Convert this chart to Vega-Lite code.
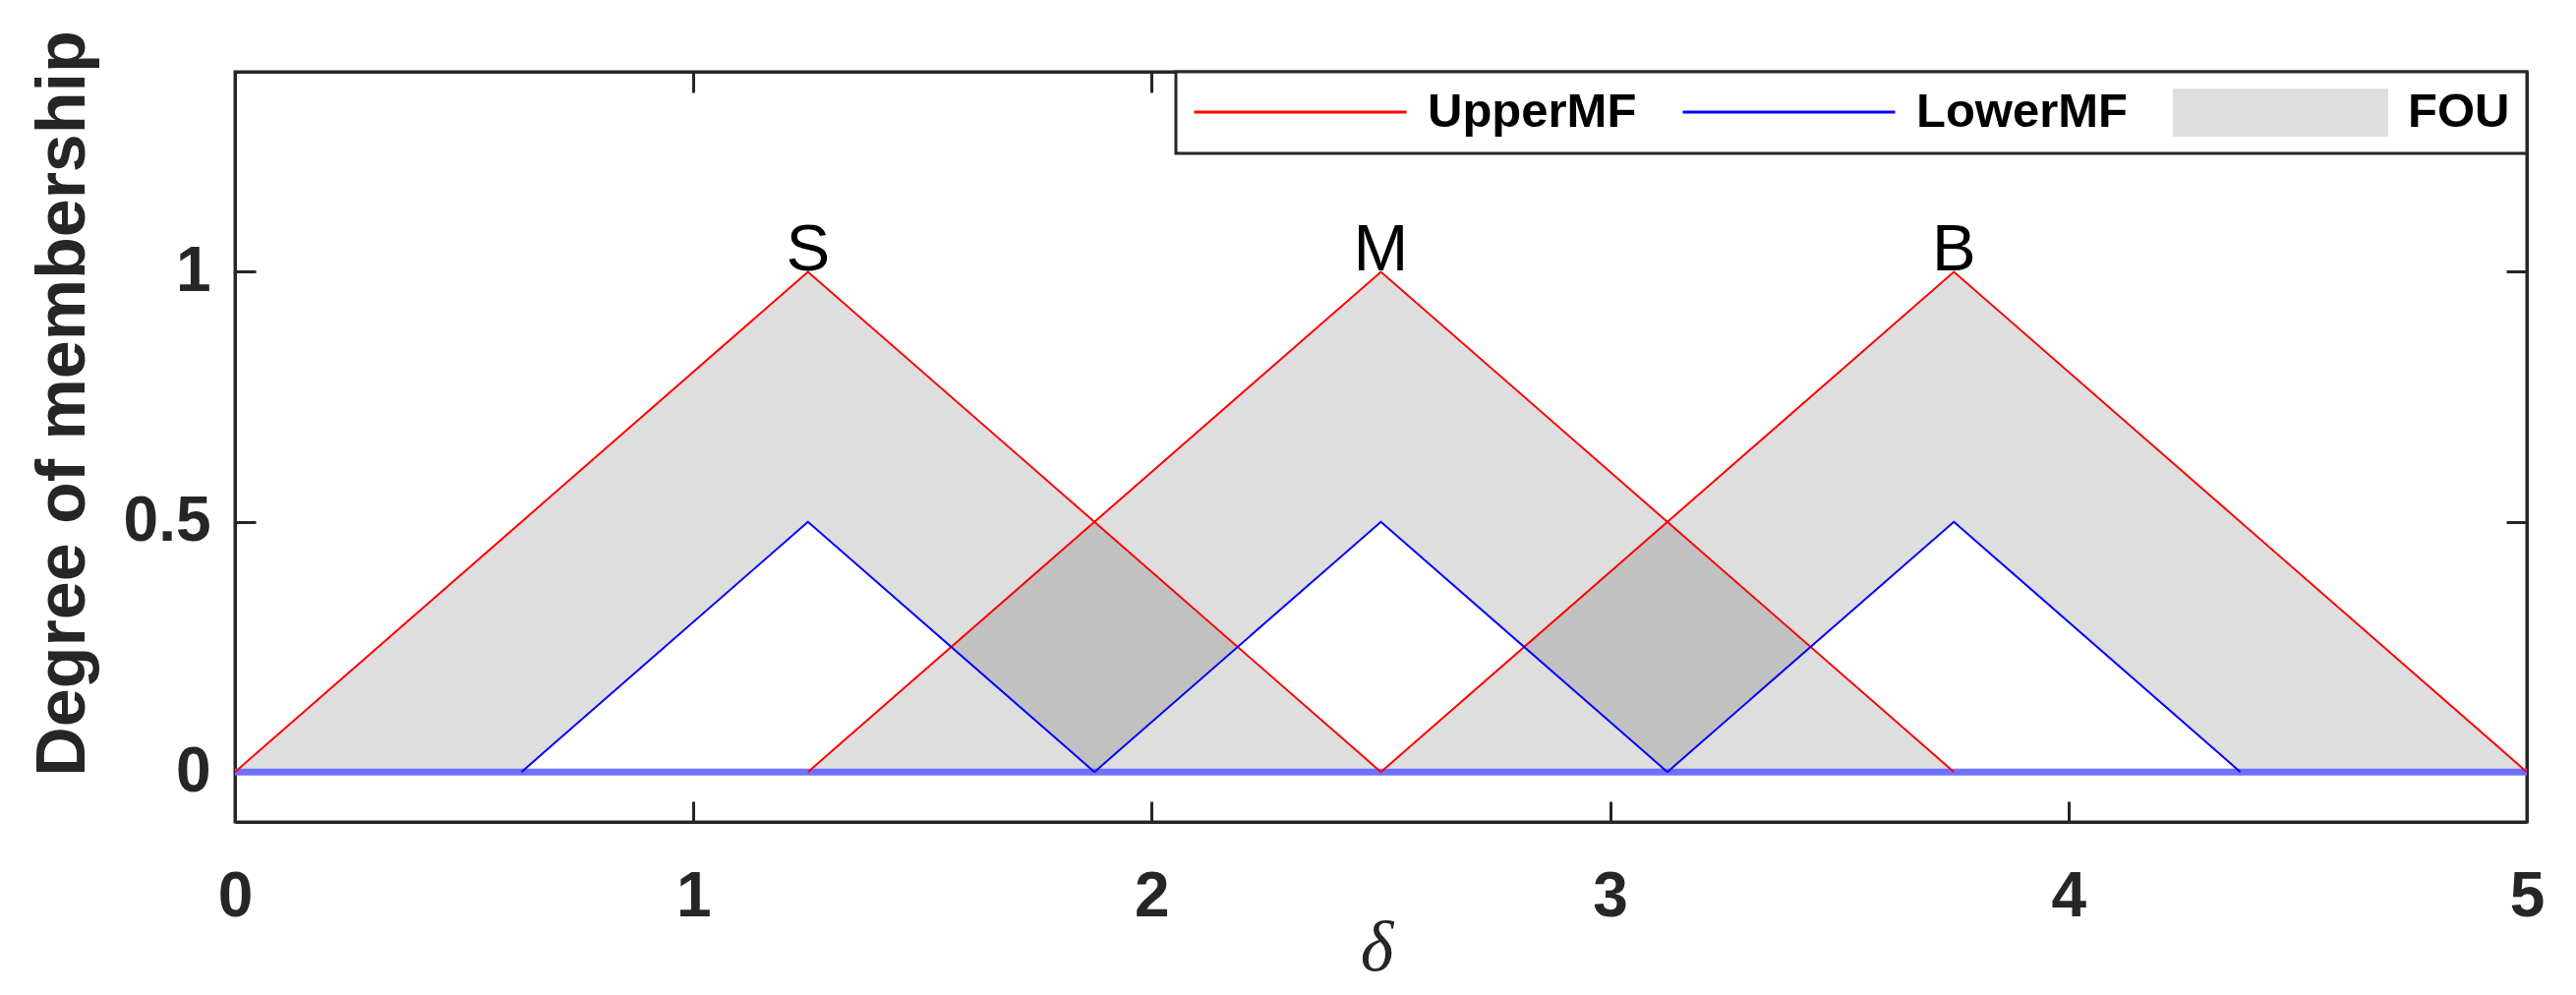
{
  "$schema": "https://vega.github.io/schema/vega-lite/v6.json",
  "width": 2331,
  "height": 763,
  "autosize": {"type": "none"},
  "padding": {"left": 239, "top": 73, "right": 50, "bottom": 176},
  "background": "white",
  "config": {
    "font": "Liberation Sans",
    "view": {"stroke": "#262626", "strokeWidth": 3},
    "axis": {
      "grid": false,
      "domainColor": "#262626",
      "domainWidth": 3,
      "tickColor": "#262626",
      "tickWidth": 3,
      "tickSize": -21,
      "labelFlush": false,
      "labelFont": "Liberation Sans",
      "labelFontWeight": "bold",
      "labelFontSize": 64,
      "labelColor": "#262626",
      "titleColor": "#262626"
    }
  },
  "datasets": {
    "fou": [
      {"set": "S", "x": 0, "upper": 0, "lower": 0},
      {"set": "S", "x": 0.625, "upper": 0.5, "lower": 0},
      {"set": "S", "x": 1.25, "upper": 1, "lower": 0.5},
      {"set": "S", "x": 1.875, "upper": 0.5, "lower": 0},
      {"set": "S", "x": 2.5, "upper": 0, "lower": 0},
      {"set": "M", "x": 1.25, "upper": 0, "lower": 0},
      {"set": "M", "x": 1.875, "upper": 0.5, "lower": 0},
      {"set": "M", "x": 2.5, "upper": 1, "lower": 0.5},
      {"set": "M", "x": 3.125, "upper": 0.5, "lower": 0},
      {"set": "M", "x": 3.75, "upper": 0, "lower": 0},
      {"set": "B", "x": 2.5, "upper": 0, "lower": 0},
      {"set": "B", "x": 3.125, "upper": 0.5, "lower": 0},
      {"set": "B", "x": 3.75, "upper": 1, "lower": 0.5},
      {"set": "B", "x": 4.375, "upper": 0.5, "lower": 0},
      {"set": "B", "x": 5, "upper": 0, "lower": 0}
    ],
    "mf": [
      {"type": "UpperMF", "set": "S", "x": 0, "y": 0},
      {"type": "UpperMF", "set": "S", "x": 1.25, "y": 1},
      {"type": "UpperMF", "set": "S", "x": 2.5, "y": 0},
      {"type": "UpperMF", "set": "M", "x": 1.25, "y": 0},
      {"type": "UpperMF", "set": "M", "x": 2.5, "y": 1},
      {"type": "UpperMF", "set": "M", "x": 3.75, "y": 0},
      {"type": "UpperMF", "set": "B", "x": 2.5, "y": 0},
      {"type": "UpperMF", "set": "B", "x": 3.75, "y": 1},
      {"type": "UpperMF", "set": "B", "x": 5, "y": 0},
      {"type": "LowerMF", "set": "S", "x": 0.625, "y": 0},
      {"type": "LowerMF", "set": "S", "x": 1.25, "y": 0.5},
      {"type": "LowerMF", "set": "S", "x": 1.875, "y": 0},
      {"type": "LowerMF", "set": "M", "x": 1.875, "y": 0},
      {"type": "LowerMF", "set": "M", "x": 2.5, "y": 0.5},
      {"type": "LowerMF", "set": "M", "x": 3.125, "y": 0},
      {"type": "LowerMF", "set": "B", "x": 3.125, "y": 0},
      {"type": "LowerMF", "set": "B", "x": 3.75, "y": 0.5},
      {"type": "LowerMF", "set": "B", "x": 4.375, "y": 0}
    ],
    "labels": [
      {"set": "S", "x": 1.25, "y": 1},
      {"set": "M", "x": 2.5, "y": 1},
      {"set": "B", "x": 3.75, "y": 1}
    ],
    "base": [
      {"x": 0, "x2": 5, "y": 0}
    ]
  },
  "layer": [
    {
      "data": {"name": "fou"},
      "mark": {"type": "area", "opacity": 1, "blend": "multiply", "interpolate": "linear"},
      "encoding": {
        "x": {
          "field": "x", "type": "quantitative",
          "scale": {"domain": [0, 5], "nice": false, "zero": false},
          "axis": {
            "orient": "bottom", "values": [0, 1, 2, 3, 4, 5], "format": "~g",
            "labelPadding": 65, "labelBaseline": "top",
            "title": "δ", "titleFont": "Liberation Serif", "titleFontStyle": "italic",
            "titleFontWeight": "normal", "titleFontSize": 72,
            "titleX": 1161, "titleY": 150, "titleBaseline": "alphabetic", "titleAlign": "center"
          }
        },
        "y": {
          "field": "upper", "type": "quantitative",
          "scale": {"domain": [-0.1, 1.4], "nice": false, "zero": false},
          "axis": {
            "orient": "left", "values": [0, 0.5, 1], "format": "~g",
            "labelPadding": 46,
            "title": "Degree of membership", "titleFontSize": 70, "titleFontWeight": "bold",
            "titleAngle": 270, "titleX": -154, "titleY": 337,
            "titleBaseline": "alphabetic", "titleAlign": "center"
          }
        },
        "y2": {"field": "lower"},
        "detail": {"field": "set"},
        "color": {
          "datum": "FOU",
          "scale": {"domain": ["UpperMF", "LowerMF", "FOU"], "range": ["#ff0000", "#0000ff", "#dedede"]},
          "legend": {
            "title": null, "orient": "top-right", "offset": 0, "direction": "horizontal",
            "padding": 17, "strokeColor": "#262626", "fillColor": "white",
            "symbolSize": 46656, "symbolStrokeWidth": 3, "symbolOffset": 0, "symbolOpacity": 1,
            "labelOffset": 20, "labelFont": "Liberation Sans", "labelFontWeight": "bold",
            "labelFontSize": 49, "labelColor": "black", "labelLimit": 500,
            "columnPadding": 45, "clipHeight": 48,
            "encode": {
              "legend": {"update": {"strokeWidth": {"value": 3}}},
              "symbols": {
                "update": {
                  "shape": {"signal": "datum.value === 'FOU' ? 'M-1,-0.236H1V0.236H-1Z' : 'stroke'"},
                  "strokeWidth": {"value": 3}
                }
              }
            }
          }
        }
      }
    },
    {
      "data": {"name": "base"},
      "mark": {"type": "rule", "color": "#7070ff", "strokeWidth": 7},
      "encoding": {
        "x": {"field": "x", "type": "quantitative", "axis": null},
        "x2": {"field": "x2"},
        "y": {"field": "y", "type": "quantitative", "axis": null}
      }
    },
    {
      "data": {"name": "mf"},
      "transform": [{"filter": "datum.type === 'UpperMF'"}],
      "mark": {"type": "line", "strokeWidth": 2},
      "encoding": {
        "x": {"field": "x", "type": "quantitative",
          "axis": {"orient": "top", "values": [0, 1, 2, 3, 4, 5], "labels": false, "title": null}},
        "y": {"field": "y", "type": "quantitative",
          "axis": {"orient": "right", "values": [0, 0.5, 1], "labels": false, "title": null}},
        "detail": {"field": "set"},
        "color": {"datum": "UpperMF"}
      }
    },
    {
      "data": {"name": "mf"},
      "transform": [{"filter": "datum.type === 'LowerMF'"}],
      "mark": {"type": "line", "strokeWidth": 2},
      "encoding": {
        "x": {"field": "x", "type": "quantitative", "axis": null},
        "y": {"field": "y", "type": "quantitative", "axis": null},
        "detail": {"field": "set"},
        "color": {"datum": "LowerMF"}
      }
    },
    {
      "data": {"name": "labels"},
      "mark": {"type": "text", "font": "Liberation Sans", "fontSize": 67, "baseline": "alphabetic", "align": "center", "color": "black", "dy": -1},
      "encoding": {
        "x": {"field": "x", "type": "quantitative", "axis": null},
        "y": {"field": "y", "type": "quantitative", "axis": null},
        "text": {"field": "set"}
      }
    }
  ],
  "resolve": {"axis": {"x": "independent", "y": "independent"}}
}
